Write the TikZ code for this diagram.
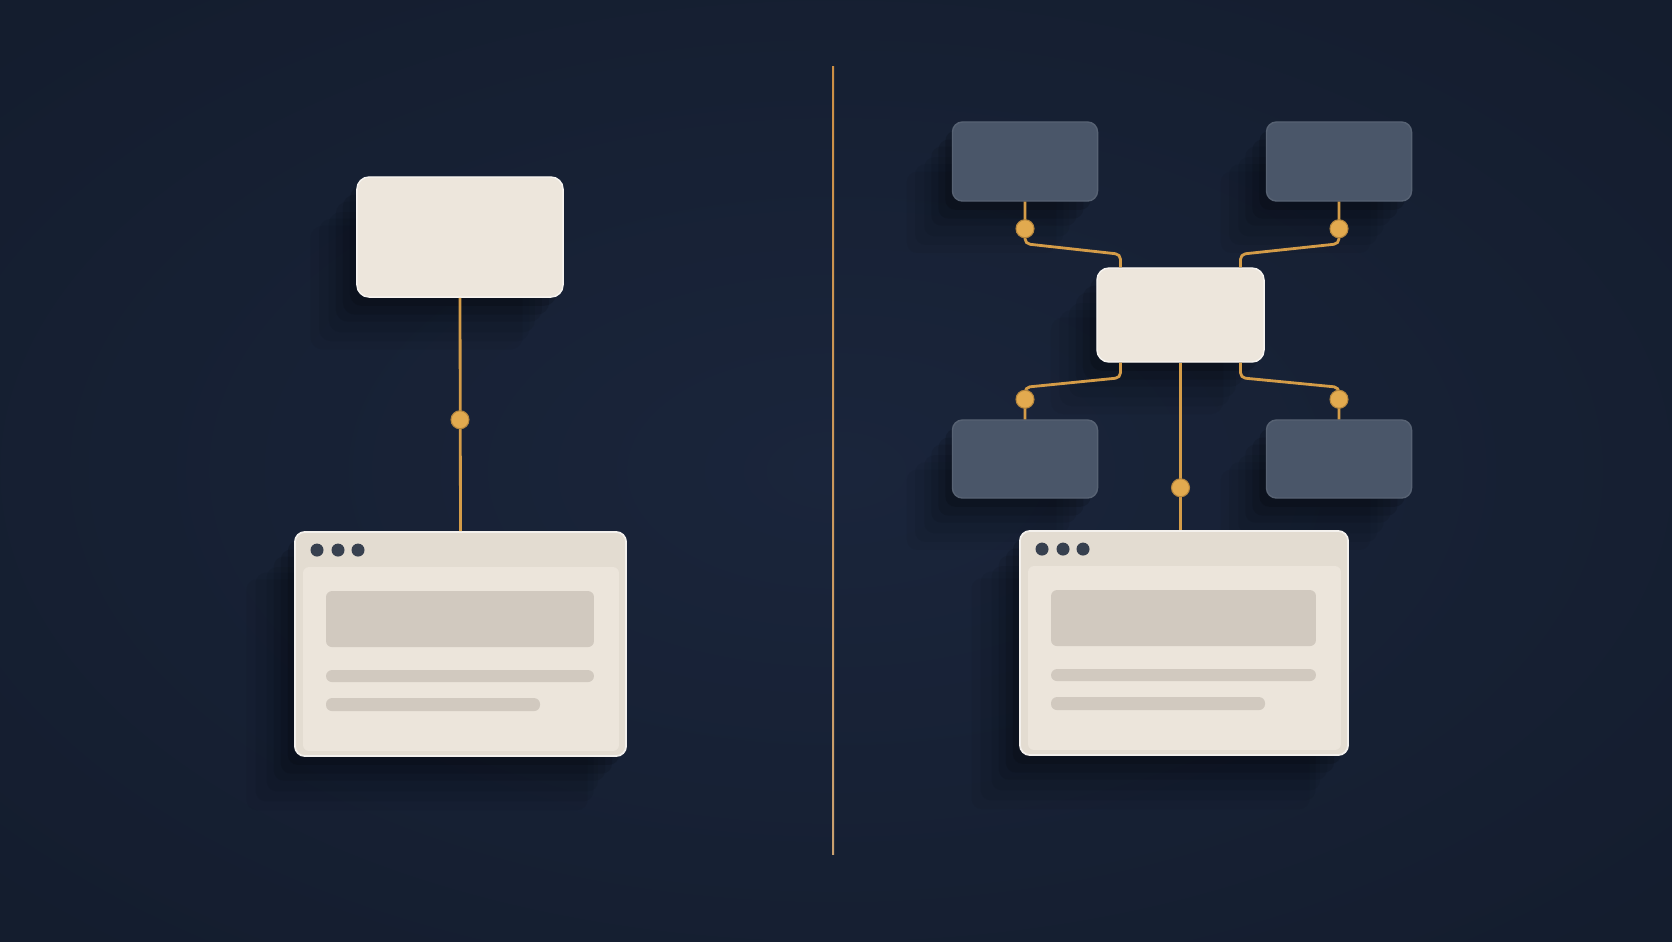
\documentclass[tikz,border=0pt]{standalone}
\usetikzlibrary{shadows,calc}
\definecolor{bgc}{HTML}{1A253B}
\definecolor{bgo}{HTML}{111928}
\definecolor{cream}{HTML}{EDE6DC}
\definecolor{barc}{HTML}{E3DCD1}
\definecolor{panelc}{HTML}{ECE5DB}
\definecolor{blockc}{HTML}{D1C9BF}
\definecolor{slate}{HTML}{4A5669}
\definecolor{gold}{HTML}{D49C48}
\definecolor{goldd}{HTML}{E2AA4F}
\definecolor{dotc}{HTML}{37404F}
\definecolor{divtop}{HTML}{CC8F45}
\definecolor{divbot}{HTML}{C9A070}
\newcommand{\webbody}[1]{%
  \fill[panelc, rounded corners=0.06cm] ($(#1.north west)+(9,36)$) rectangle ($(#1.south east)+(-8,-6)$);
  \foreach \dx in {23,44,64} \fill[dotc] ($(#1.north west)+(\dx,19)$) circle (0.065cm);
  \fill[blockc, rounded corners=0.06cm] ($(#1.north west)+(32,60)$) rectangle ($(#1.north east)+(-33,116)$);
  \fill[blockc, rounded corners=0.06cm] ($(#1.north west)+(32,139)$) rectangle ($(#1.north east)+(-33,151)$);
  \fill[blockc, rounded corners=0.06cm] ($(#1.north west)+(32,167)$) rectangle ($(#1.north west)+(246,180)$);
}
\begin{document}
\begin{tikzpicture}[x={(0.01cm,0)}, y={(0,-0.01cm)},
  shd/.style={
    drop shadow={shadow xshift=-12pt,shadow yshift=-14pt,shadow scale=1.03,opacity=.04,fill=black},
    drop shadow={shadow xshift=-10pt,shadow yshift=-12pt,shadow scale=1.02,opacity=.05,fill=black},
    drop shadow={shadow xshift=-8pt,shadow yshift=-10pt,opacity=.06,fill=black},
    drop shadow={shadow xshift=-6pt,shadow yshift=-7pt,opacity=.08,fill=black},
    drop shadow={shadow xshift=-4pt,shadow yshift=-5pt,opacity=.10,fill=black},
    drop shadow={shadow xshift=-2pt,shadow yshift=-2.5pt,opacity=.14,fill=black}},
  card/.style={shd, rectangle, rounded corners=0.12cm, fill=cream, draw=white!60!cream, line width=0.4pt, inner sep=0pt},
  browser/.style={shd, rectangle, rounded corners=0.1cm, fill=barc, draw=white!60!barc, line width=0.5pt, inner sep=0pt},
  slatebox/.style={shd, rectangle, rounded corners=0.1cm, fill=slate, draw=slate!93!white, line width=0.4pt, inner sep=0pt},
  wire/.style={draw=gold, line width=0.8pt, rounded corners=0.05cm},
  jdot/.style={fill=goldd, draw=gold!85!black, line width=0.3pt}
]
\useasboundingbox (0,0) rectangle (1672,941);
\clip (0,0) rectangle (1672,941);
\shade[inner color=bgc, outer color=bgo] (-836,-470) rectangle (2508,1411);

% divider
\coordinate (dtop) at (832,66);
\coordinate (dbot) at (834,854);
\shade[top color=divtop, bottom color=divbot] (dtop) rectangle (dbot);

% left side
\node[card, minimum width=2.06cm, minimum height=1.20cm] (A) at (460,237) {};
\node[browser, minimum width=3.31cm, minimum height=2.24cm] (B) at (460.5,644) {};
\webbody{B}
\draw[wire] (A.south) -- (B.north);
\fill[jdot] ($(A.south)+(0,122)$) circle (0.09cm);

% right side
\node[slatebox, minimum width=1.45cm, minimum height=0.79cm] (TL) at (1025,161.5) {};
\node[slatebox, minimum width=1.45cm, minimum height=0.79cm] (TR) at (1339,161.5) {};
\node[slatebox, minimum width=1.45cm, minimum height=0.78cm] (BL) at (1025,459) {};
\node[slatebox, minimum width=1.45cm, minimum height=0.78cm] (BR) at (1339,459) {};
\node[card, minimum width=1.67cm, minimum height=0.94cm] (C) at (1180.5,315) {};
\node[browser, minimum width=3.28cm, minimum height=2.24cm] (RB) at (1184,643) {};
\webbody{RB}

\draw[wire] (TL.south) -- ++(0,42) -- ($(C.north)+(-60,-13)$) -- ($(C.north)+(-60,0)$);
\draw[wire] (TR.south) -- ++(0,42) -- ($(C.north)+(60,-13)$) -- ($(C.north)+(60,0)$);
\draw[wire] ($(C.south)+(-60,0)$) -- ++(0,15) -- ($(BL.north)+(0,-32)$) -- (BL.north);
\draw[wire] ($(C.south)+(60,0)$) -- ++(0,15) -- ($(BR.north)+(0,-32)$) -- (BR.north);
\draw[wire] (C.south) -- (C.south |- RB.north);

\fill[jdot] ($(TL.south)+(0,27)$) circle (0.09cm);
\fill[jdot] ($(TR.south)+(0,27)$) circle (0.09cm);
\fill[jdot] ($(BL.north)+(0,-20)$) circle (0.09cm);
\fill[jdot] ($(BR.north)+(0,-20)$) circle (0.09cm);
\fill[jdot] ($(C.south)+(0,125)$) circle (0.09cm);
\end{tikzpicture}
\end{document}
